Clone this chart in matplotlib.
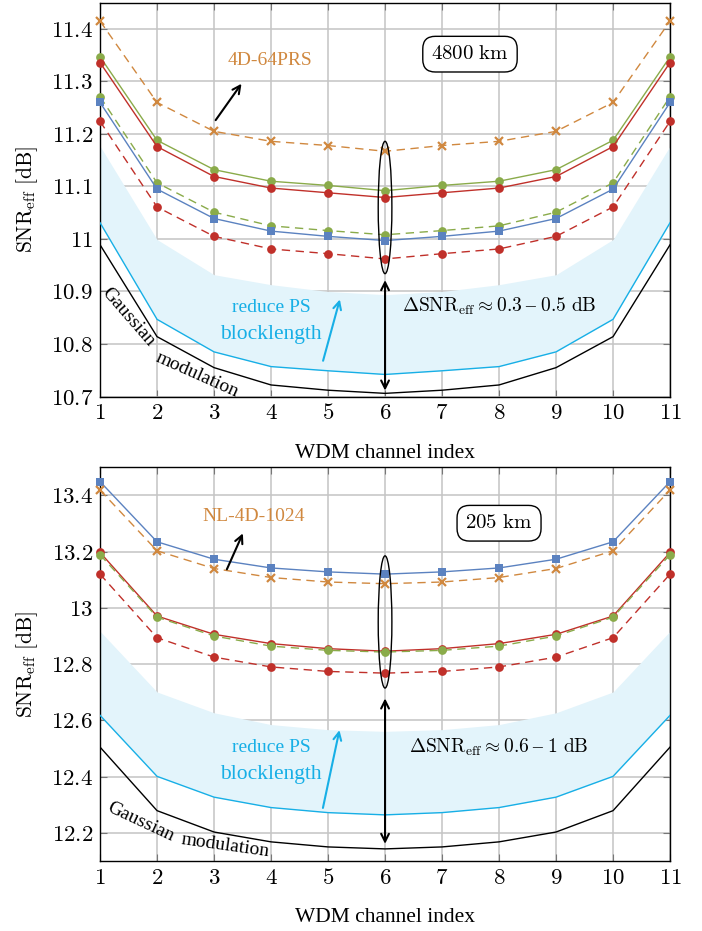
import matplotlib
matplotlib.use("Agg")
import matplotlib.pyplot as plt
from matplotlib.patches import Ellipse

plt.rcParams['font.family'] = ['Liberation Serif', 'DejaVu Serif']
plt.rcParams['mathtext.fontset'] = 'cm'

channels = list(range(1, 12))
xtick_labels = [str(c) for c in channels]

# ---------- top panel: 4800 km ----------
top_orange_dash = [11.415, 11.26, 11.205, 11.186, 11.178, 11.167, 11.178, 11.186, 11.205, 11.26, 11.415]
top_green_solid = [11.347, 11.188, 11.132, 11.110, 11.102, 11.092, 11.102, 11.110, 11.132, 11.188, 11.347]
top_red_solid = [11.336, 11.176, 11.119, 11.097, 11.088, 11.079, 11.088, 11.097, 11.119, 11.176, 11.336]
top_green_dash = [11.271, 11.107, 11.051, 11.025, 11.016, 11.008, 11.016, 11.025, 11.051, 11.107, 11.271]
top_blue_solid = [11.260, 11.095, 11.039, 11.015, 11.005, 10.997, 11.005, 11.015, 11.039, 11.095, 11.260]
top_red_dash = [11.224, 11.061, 11.005, 10.981, 10.972, 10.962, 10.972, 10.981, 11.005, 11.061, 11.224]
top_cyan = [11.031, 10.847, 10.785, 10.757, 10.749, 10.742, 10.749, 10.757, 10.785, 10.847, 11.031]
top_gauss = [10.989, 10.814, 10.755, 10.722, 10.712, 10.706, 10.712, 10.722, 10.755, 10.814, 10.989]
top_fill_upper = [11.177, 10.999, 10.932, 10.913, 10.900, 10.894, 10.900, 10.913, 10.932, 10.999, 11.177]
top_yticks = [10.7, 10.8, 10.9, 11.0, 11.1, 11.2, 11.3, 11.4]
top_ytick_labels = ['10.7', '10.8', '10.9', '11', '11.1', '11.2', '11.3', '11.4']

# ---------- bottom panel: 205 km ----------
bot_blue_solid = [13.449, 13.235, 13.173, 13.142, 13.128, 13.120, 13.128, 13.142, 13.173, 13.235, 13.449]
bot_orange_dash = [13.419, 13.203, 13.140, 13.108, 13.092, 13.086, 13.092, 13.108, 13.140, 13.203, 13.419]
bot_red_solid = [13.197, 12.971, 12.906, 12.873, 12.855, 12.846, 12.855, 12.873, 12.906, 12.971, 13.197]
bot_green_dash = [13.189, 12.967, 12.900, 12.864, 12.849, 12.843, 12.849, 12.864, 12.900, 12.967, 13.189]
bot_red_dash = [13.120, 12.894, 12.825, 12.790, 12.774, 12.768, 12.774, 12.790, 12.825, 12.894, 13.120]
bot_cyan = [12.618, 12.401, 12.327, 12.290, 12.272, 12.264, 12.272, 12.290, 12.327, 12.401, 12.618]
bot_gauss = [12.505, 12.279, 12.203, 12.168, 12.150, 12.143, 12.150, 12.168, 12.203, 12.279, 12.505]
bot_fill_upper = [12.917, 12.701, 12.627, 12.585, 12.567, 12.561, 12.567, 12.585, 12.627, 12.701, 12.917]
bot_yticks = [12.2, 12.4, 12.6, 12.8, 13.0, 13.2, 13.4]
bot_ytick_labels = ['12.2', '12.4', '12.6', '12.8', '13', '13.2', '13.4']

C_ORANGE = '#d0883f'
C_GREEN = '#8aab4a'
C_RED = '#c0302a'
C_BLUE = '#5b82c0'
C_CYAN = '#17afe6'
C_FILL = '#e3f4fb'

fig = plt.figure(figsize=(7.02, 9.31), dpi=100)
ax1 = fig.add_axes([0.1425, 0.5741, 0.812, 0.423])
ax2 = fig.add_axes([0.1425, 0.0752, 0.812, 0.4229])

TICK_FS = 16.5
LABEL_FS = 15.5


def style_axes(ax, ylim, yticks, ylabels):
    ax.set_xlim(1, 11)
    ax.set_ylim(*ylim)
    ax.set_xticks(channels)
    ax.set_xticklabels(['$%s$' % t for t in xtick_labels], fontsize=TICK_FS)
    ax.set_yticks(yticks)
    ax.set_yticklabels(['$%s$' % t for t in ylabels], fontsize=TICK_FS)
    ax.grid(True, color='#c4c4c4', lw=1.1, zorder=0)
    ax.set_axisbelow(True)
    ax.tick_params(direction='in', length=5, color='#777777', top=True, right=True, pad=5)
    for s in ax.spines.values():
        s.set_linewidth(1.0)
        s.set_color('black')
    ax.set_xlabel('WDM channel index', fontsize=LABEL_FS, labelpad=14)
    ax.set_ylabel(r'$\mathrm{SNR}_{\mathrm{eff}}\ \mathrm{[dB]}$', fontsize=LABEL_FS, labelpad=8)


def series(ax, y, color, ls, marker, ms=6.3):
    ax.plot(channels, y, color=color, ls=ls, lw=1.0, marker=marker, ms=ms,
            mew=1.6 if marker == 'x' else 0, mfc=color, mec=color, zorder=4,
            dashes=(6, 4) if ls == '--' else (None, None), clip_on=False)


# ---------- top ----------
style_axes(ax1, (10.7, 11.45), top_yticks, top_ytick_labels)
ax1.fill_between(channels, top_cyan, top_fill_upper, color=C_FILL, lw=0, zorder=1)
ax1.plot(channels, top_cyan, color=C_CYAN, lw=1.0, zorder=3)
ax1.plot(channels, top_gauss, color='black', lw=1.0, zorder=3)
series(ax1, top_orange_dash, C_ORANGE, '--', 'x')
series(ax1, top_green_solid, C_GREEN, '-', 'o')
series(ax1, top_red_solid, C_RED, '-', 'o')
series(ax1, top_green_dash, C_GREEN, '--', 'o')
series(ax1, top_blue_solid, C_BLUE, '-', 's')
series(ax1, top_red_dash, C_RED, '--', 'o')

ax1.add_patch(Ellipse((6, 11.06), 0.24, 0.252, fill=False, ec='black', lw=1.0, zorder=5))
ax1.annotate('', xy=(6, 10.706), xytext=(6, 10.927),
             arrowprops=dict(arrowstyle='<->', color='black', lw=1.5, mutation_scale=14), zorder=5)
ax1.text(6.3, 10.871, r'$\Delta\mathrm{SNR}_{\mathrm{eff}} \approx 0.3$ – $0.5\ \mathrm{dB}$',
         fontsize=14, va='center', ha='left', zorder=6)
ax1.text(4.0, 10.869, 'reduce PS', color=C_CYAN, fontsize=14, ha='center', va='center', zorder=6)
ax1.text(4.0, 10.819, 'blocklength', color=C_CYAN, fontsize=15.5, ha='center', va='center', zorder=6)
ax1.annotate('', xy=(5.22, 10.890), xytext=(4.90, 10.763),
             arrowprops=dict(arrowstyle='->', color=C_CYAN, lw=1.5, mutation_scale=14), zorder=6)
ax1.text(1.49, 10.852, 'Gaussian', fontsize=14, rotation=-49, ha='center', va='center',
         rotation_mode='anchor', zorder=6)
ax1.text(2.70, 10.741, 'modulation', fontsize=14, rotation=-24, ha='center', va='center',
         rotation_mode='anchor', zorder=6)
ax1.text(3.98, 11.339, '4D-64PRS', color=C_ORANGE, fontsize=14, ha='center', va='center', zorder=6)
ax1.annotate('', xy=(3.51, 11.300), xytext=(3.0, 11.222),
             arrowprops=dict(arrowstyle='->', color='black', lw=1.5, mutation_scale=14), zorder=6)
ax1.text(7.49, 11.352, r'$4800\ \mathrm{km}$', fontsize=15, ha='center', va='center', zorder=6,
         bbox=dict(boxstyle='round,pad=0.4,rounding_size=0.6', fc='white', ec='black', lw=1.0))

# ---------- bottom ----------
style_axes(ax2, (12.1, 13.5), bot_yticks, bot_ytick_labels)
ax2.fill_between(channels, bot_cyan, bot_fill_upper, color=C_FILL, lw=0, zorder=1)
ax2.plot(channels, bot_cyan, color=C_CYAN, lw=1.0, zorder=3)
ax2.plot(channels, bot_gauss, color='black', lw=1.0, zorder=3)
series(ax2, bot_blue_solid, C_BLUE, '-', 's')
series(ax2, bot_orange_dash, C_ORANGE, '--', 'x')
series(ax2, bot_red_solid, C_RED, '-', 'o')
series(ax2, bot_green_dash, C_GREEN, '--', 'o')
series(ax2, bot_red_dash, C_RED, '--', 'o')

ax2.add_patch(Ellipse((6, 12.95), 0.24, 0.47, fill=False, ec='black', lw=1.0, zorder=5))
ax2.annotate('', xy=(6, 12.151), xytext=(6, 12.688),
             arrowprops=dict(arrowstyle='<->', color='black', lw=1.5, mutation_scale=14), zorder=5)
ax2.text(6.42, 12.503, r'$\Delta\mathrm{SNR}_{\mathrm{eff}} \approx 0.6$ – $1\ \mathrm{dB}$',
         fontsize=14, va='center', ha='left', zorder=6)
ax2.text(4.0, 12.503, 'reduce PS', color=C_CYAN, fontsize=14, ha='center', va='center', zorder=6)
ax2.text(4.0, 12.409, 'blocklength', color=C_CYAN, fontsize=15.5, ha='center', va='center', zorder=6)
ax2.annotate('', xy=(5.21, 12.575), xytext=(4.90, 12.279),
             arrowprops=dict(arrowstyle='->', color=C_CYAN, lw=1.5, mutation_scale=14), zorder=6)
ax2.text(1.72, 12.239, 'Gaussian', fontsize=14, rotation=-25, ha='center', va='center',
         rotation_mode='anchor', zorder=6)
ax2.text(3.19, 12.153, 'modulation', fontsize=14, rotation=-8, ha='center', va='center',
         rotation_mode='anchor', zorder=6)
ax2.text(3.70, 13.326, 'NL-4D-1024', color=C_ORANGE, fontsize=14, ha='center', va='center', zorder=6)
ax2.annotate('', xy=(3.526, 13.274), xytext=(3.205, 13.128),
             arrowprops=dict(arrowstyle='->', color='black', lw=1.5, mutation_scale=14), zorder=6)
ax2.text(8.0, 13.301, r'$205\ \mathrm{km}$', fontsize=15, ha='center', va='center', zorder=6,
         bbox=dict(boxstyle='round,pad=0.4,rounding_size=0.6', fc='white', ec='black', lw=1.0))

fig.savefig('out.png', dpi=100)
